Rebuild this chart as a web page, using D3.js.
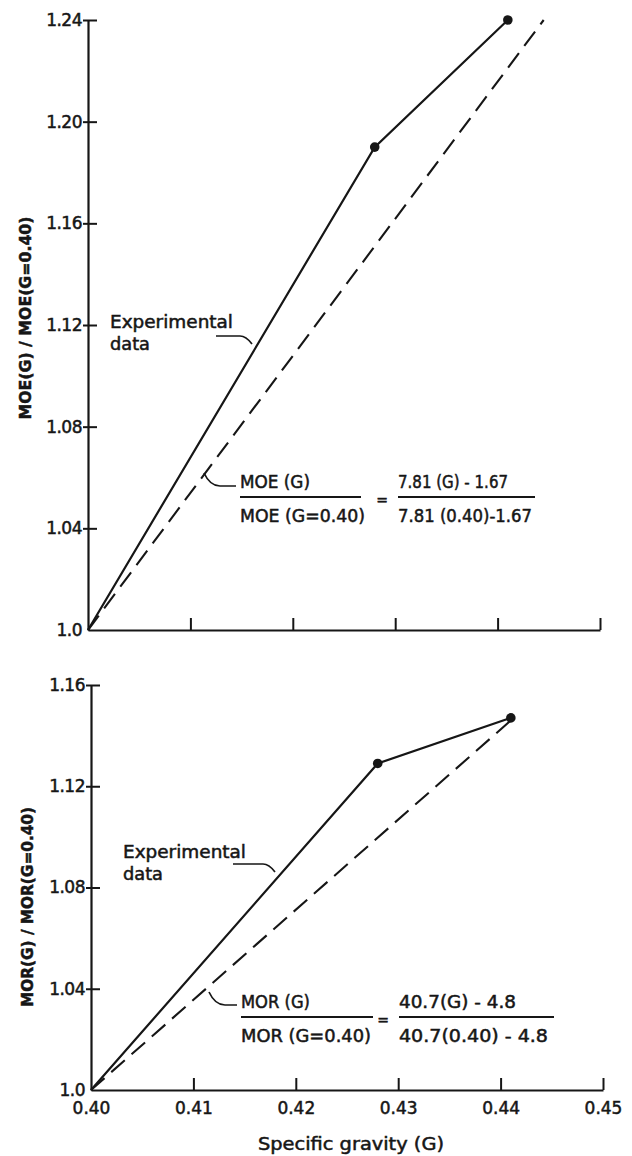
<!DOCTYPE html>
<html><head><meta charset="utf-8">
<script src="https://cdn.jsdelivr.net/npm/d3@7"></script>
<style>
body{margin:0;background:#fff}
text{font-family:"DejaVu Sans",sans-serif;fill:#161616;stroke:#161616;stroke-width:0.5}
</style>
</head><body><svg id="c" width="632" height="1156"></svg>
<script>
// ---- data ----
const xTicks = [0.40, 0.41, 0.42, 0.43, 0.44, 0.45];
const xTickLabels = ["0.40", "0.41", "0.42", "0.43", "0.44", "0.45"];
const moeTicks = [1.00, 1.04, 1.08, 1.12, 1.16, 1.20, 1.24];
const moeTickLabels = ["1.0", "1.04", "1.08", "1.12", "1.16", "1.20", "1.24"];
const morTicks = [1.00, 1.04, 1.08, 1.12, 1.16];
const morTickLabels = ["1.0", "1.04", "1.08", "1.12", "1.16"];
const moeExpG = [0.400, 0.428, 0.441];
const moeExpVal = [1.000, 1.190, 1.240];
const moeEqG = [0.400, 0.4445];
const moeEqVal = [1.000, 1.240];
const morExpG = [0.400, 0.428, 0.441];
const morExpVal = [1.000, 1.129, 1.147];
const morEqG = [0.400, 0.441];
const morEqVal = [1.000, 1.146];

const svg = d3.select("#c");
const ink = "#161616";

function txt(g, x, y, s, o = {}) {
  const t = g.append("text").attr("x", x).attr("y", y).text(s)
    .attr("font-size", o.size || 17);
  if (o.anchor) t.attr("text-anchor", o.anchor);
  if (o.len) t.attr("textLength", o.len).attr("lengthAdjust", "spacingAndGlyphs");
  if (o.rotate) t.attr("transform", `rotate(-90,${x},${y})`);
  if (o.weight) t.attr("font-weight", o.weight);
  return t;
}

function panel(cfg) {
  const g = svg.append("g");
  const x = d3.scaleLinear().domain([0.40, 0.45]).range(cfg.xr);
  const y = d3.scaleLinear().domain(cfg.yd).range(cfg.yr);
  const xa = g.append("g").attr("transform", `translate(0,${cfg.yr[0]})`)
    .call(d3.axisBottom(x).tickValues(xTicks).tickSizeInner(-12).tickSizeOuter(0)
      .tickFormat((d, i) => cfg.xlabels ? xTickLabels[i] : ""));
  xa.select(".domain").attr("stroke", ink).attr("stroke-width", 2.2);
  xa.selectAll(".tick line").attr("stroke", ink).attr("stroke-width", 2)
    .attr("display", d => d === 0.40 ? "none" : null);
  xa.selectAll(".tick text").attr("font-size", 17).attr("dy", "1.25em")
    .attr("font-family", "DejaVu Sans").attr("fill", ink);
  const ya = g.append("g").attr("transform", `translate(${cfg.xr[0]},0)`)
    .call(d3.axisLeft(y).tickValues(cfg.yt).tickSizeInner(5).tickSizeOuter(0)
      .tickFormat((d, i) => cfg.ytl[i]));
  ya.select(".domain").attr("stroke", ink).attr("stroke-width", 2.2);
  ya.selectAll(".tick line").attr("stroke", ink).attr("stroke-width", 2)
    .attr("x1", 9).attr("display", d => d === 1.0 ? "none" : null);
  ya.selectAll(".tick text").attr("font-size", 17).attr("x", -6)
    .attr("font-family", "DejaVu Sans").attr("fill", ink).attr("letter-spacing", -0.5);
  const line = d3.line().x(d => x(d[0])).y(d => y(d[1]));
  const eq = cfg.eqG.map((v, i) => [v, cfg.eqV[i]]);
  const ex = cfg.exG.map((v, i) => [v, cfg.exV[i]]);
  g.append("path").attr("d", line(eq)).attr("fill", "none").attr("stroke", ink)
    .attr("stroke-width", 2.1).attr("stroke-dasharray", "18,9");
  g.append("path").attr("d", line(ex)).attr("fill", "none").attr("stroke", ink)
    .attr("stroke-width", 2.2);
  g.selectAll("circle.pt").data(ex.slice(1)).join("circle").attr("class", "pt")
    .attr("cx", d => x(d[0])).attr("cy", d => y(d[1])).attr("r", 4.8).attr("fill", ink);
  return { g, x, y };
}

const moePanel = panel({
  xr: [88, 600], yd: [1.0, 1.24], yr: [630, 20], yt: moeTicks, ytl: moeTickLabels,
  eqG: moeEqG, eqV: moeEqVal, exG: moeExpG, exV: moeExpVal, xlabels: false
});
const morPanel = panel({
  xr: [91, 603], yd: [1.0, 1.16], yr: [1090, 685], yt: morTicks, ytl: morTickLabels,
  eqG: morEqG, eqV: morEqVal, exG: morExpG, exV: morExpVal, xlabels: true
});

const ann = svg.append("g");
txt(ann, 31, 318, "MOE(G) / MOE(G=0.40)", { anchor: "middle", rotate: true, len: 203, size: 16, weight: "bold" });
txt(ann, 33, 907, "MOR(G) / MOR(G=0.40)", { anchor: "middle", rotate: true, len: 200, size: 16, weight: "bold" });
txt(ann, 351, 1150, "Specific gravity (G)", { anchor: "middle", len: 186 });

function expLabel(x0, yb, lx0, ly, lx1, ly1) {
  txt(ann, x0, yb, "Experimental", { len: 123 });
  txt(ann, x0, yb + 22, "data", { len: 40 });
  ann.append("path")
    .attr("d", `M${lx0},${ly} L${lx1 - 12},${ly} Q${lx1 - 6},${ly} ${lx1},${ly1}`)
    .attr("fill", "none").attr("stroke", ink).attr("stroke-width", 1.7);
}
expLabel(110, 328, 216, 336, 252, 344);
expLabel(123, 858, 233, 864, 275, 872);

function equation(lx, yb, num, den, wNum, wDen, lineL, rx, rnum, rden, wRn, wRd, lineR, hook) {
  txt(ann, lx, yb, num, { len: wNum });
  txt(ann, lx, yb + 34, den, { len: wDen });
  ann.append("line").attr("x1", lx).attr("x2", lx + lineL).attr("y1", yb + 9).attr("y2", yb + 9)
    .attr("stroke", ink).attr("stroke-width", 1.9);
  txt(ann, rx - 16, yb + 17, "=", { size: 14, anchor: "middle" });
  txt(ann, rx, yb, rnum, { len: wRn });
  txt(ann, rx, yb + 34, rden, { len: wRd });
  ann.append("line").attr("x1", rx).attr("x2", rx + lineR).attr("y1", yb + 9).attr("y2", yb + 9)
    .attr("stroke", ink).attr("stroke-width", 1.9);
  const [hx, hy] = hook;
  ann.append("path")
    .attr("d", `M${hx},${hy} Q${hx + 6},${hy + 13} ${hx + 16},${hy + 13} L${lx - 4},${hy + 13}`)
    .attr("fill", "none").attr("stroke", ink).attr("stroke-width", 1.7);
}
equation(240, 488, "MOE (G)", "MOE (G=0.40)", 70, 125, 121,
  398, "7.81 (G) - 1.67", "7.81 (0.40)-1.67", 110, 134, 137, [204, 473]);
equation(241, 1008, "MOR (G)", "MOR (G=0.40)", 69, 130, 132,
  399, "40.7(G) - 4.8", "40.7(0.40) - 4.8", 117, 149, 155, [209, 992]);
</script>
</body></html>
